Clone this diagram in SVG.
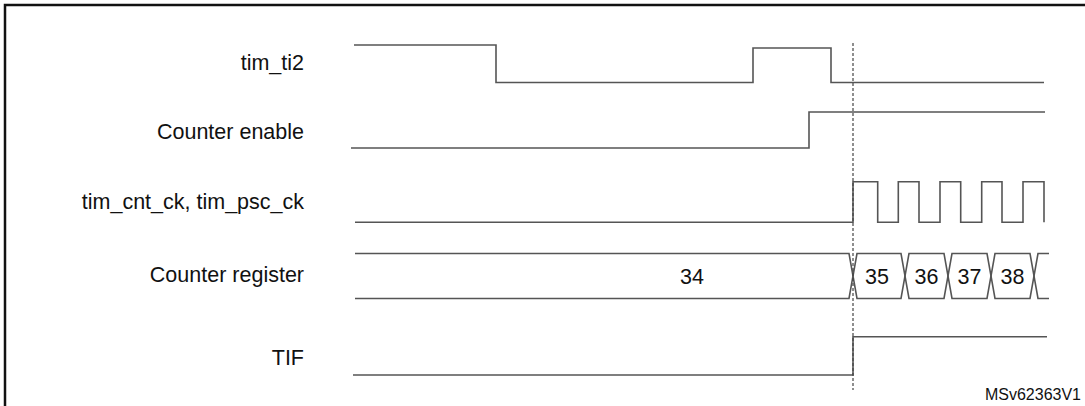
<svg xmlns="http://www.w3.org/2000/svg" width="1085" height="406" viewBox="0 0 1085 406">
<style>
  .frame { fill: none; stroke: #111; stroke-width: 2.5; }
  .sig { fill: none; stroke: #555; stroke-width: 1.6; }
  .dash { fill: none; stroke: #444; stroke-width: 1.2; stroke-dasharray: 3 2; }
  .lbl { font-family: "Liberation Sans", Arial, sans-serif; font-size: 21.5px; fill: #111; text-anchor: end; }
  .val { font-family: "Liberation Sans", Arial, sans-serif; font-size: 21.5px; fill: #111; text-anchor: middle; }
  .ref { font-family: "Liberation Sans", Arial, sans-serif; font-size: 16px; fill: #111; text-anchor: end; }
</style>
<rect width="1085" height="406" fill="#fff"/>
<path class="frame" d="M5,406 V5 H1085"/>

<g id="node-tim_ti2">
  <text class="lbl" x="304" y="70">tim_ti2</text>
  <path class="sig" d="M354,45 H496 V82.5 H753 V48 H831 V82.5 H1044"/>
</g>
<g id="node-counter-enable">
  <text class="lbl" x="304" y="139">Counter enable</text>
  <path class="sig" d="M351,148 H809 V112 H1045"/>
</g>
<g id="node-clock">
  <text class="lbl" x="304" y="209">tim_cnt_ck, tim_psc_ck</text>
  <path class="sig" d="M355,222.3 H853 V181.7 H877.7 V222.3 H898.3 V181.7 H919 V222.3 H940 V181.7 H960.7 V222.3 H981.7 V181.7 H1002 V222.3 H1023 V181.7 H1044 V222.3"/>
</g>
<g id="node-counter-register">
  <text class="lbl" x="304" y="282">Counter register</text>
  <path class="sig" d="M355,253.5 H849 L857,298.5 H901 L909,253.5 H944 L952,298.5 H987 L995,253.5 H1030 L1038,298.5 H1049"/>
  <path class="sig" d="M355,298.5 H849 L857,253.5 H901 L909,298.5 H944 L952,253.5 H987 L995,298.5 H1030 L1038,253.5 H1049"/>
  <text class="val" x="692" y="284">34</text>
  <text class="val" x="877" y="284">35</text>
  <text class="val" x="926.5" y="284">36</text>
  <text class="val" x="969.5" y="284">37</text>
  <text class="val" x="1012.5" y="284">38</text>
</g>
<g id="node-tif">
  <text class="lbl" x="304" y="365">TIF</text>
  <path class="sig" d="M353,375 H853 V336.7 H1047"/>
</g>
<g id="connectors">
  <path class="dash" d="M853,43 V390"/>
</g>
<text class="ref" x="1081" y="400">MSv62363V1</text>
</svg>
